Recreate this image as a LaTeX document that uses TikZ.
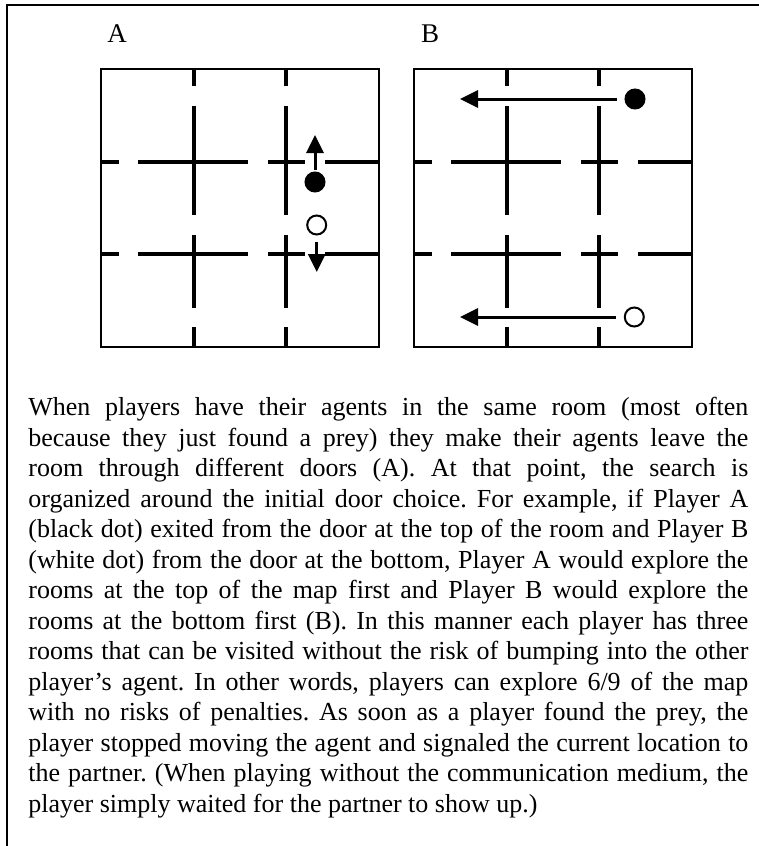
\documentclass[tikz,border=0pt]{standalone}
\usepackage{fontspec}
\setmainfont{Liberation Serif}
\usetikzlibrary{arrows.meta}
\newcommand{\justline}[1]{\makebox[360pt][s]{#1}}
\begin{document}
\begin{tikzpicture}[x=0.5pt, y=-0.5pt,
    wall/.style={line width=2pt},
    border/.style={line width=1.25pt},
    move/.style={line width=1.5pt, -{Triangle[length=9pt,width=8.5pt]}},
    agent/.style={circle, draw, line width=1pt, minimum size=9.5pt, inner sep=0pt},
    txt/.style={font=\fontsize{13}{15.25}\selectfont}]
    \useasboundingbox (0,0) rectangle (759,846);
    % frame
    \draw[line width=1pt] (7,846) -- (7,5) -- (759,5);
    % the two maps
    \foreach \gx/\name in {101/A, 414/B} {
      \begin{scope}[shift={(\gx,69)}]
        \node[txt, font=\fontsize{13.5}{15}\selectfont] (lbl\name) at (16,-35) {\name};
        \foreach \wx in {92.7,185.3}
          \foreach \a/\b in {0/17, 37/146, 166/239, 258/278}
            \draw[wall] (\wx,\a) -- (\wx,\b);
        \foreach \wy in {93,185}
          \foreach \a/\b in {0/18, 37/147, 167/204, 224/278}
            \draw[wall] (\a,\wy) -- (\b,\wy);
        \draw[border] (0,0) rectangle (278,278);
      \end{scope}
    }
    % map A: agents leave by different doors
    \node[agent, fill=black] (blackA) at (315,182) {};
    \node[agent, fill=white] (whiteA) at (316.7,225) {};
    \coordinate (upA) at (315,135);
    \coordinate (downA) at (316.7,272);
    \draw[move, shorten <=1pt] (blackA) -- (upA);
    \draw[move, shorten <=3pt] (whiteA) -- (downA);
    % map B: each explores its own row
    \node[agent, fill=black] (blackB) at (635,99) {};
    \node[agent, fill=white] (whiteB) at (634.3,317) {};
    \coordinate (topB) at (460,99);
    \coordinate (botB) at (460,317);
    \draw[move, shorten <=4pt] (blackB) -- (topB);
    \draw[move, shorten <=4pt] (whiteB) -- (botB);
    % caption
    \node[txt, anchor=north west, inner sep=0pt, text width=360pt, align=left] (caption) at (28,397) {%
      \spaceskip=0pt \xspaceskip=0pt \frenchspacing
      \justline{When players have their agents in the same room (most often}\\
      \justline{because they just found a prey) they make their agents leave the}\\
      \justline{room through different doors (A). At that point, the search is}\\
      \justline{organized around the initial door choice. For example, if Player A}\\
      \justline{(black dot) exited from the door at the top of the room and Player B}\\
      \justline{(white dot) from the door at the bottom, Player A would explore the}\\
      \justline{rooms at the top of the map first and Player B would explore the}\\
      \justline{rooms at the bottom first (B). In this manner each player has three}\\
      \justline{rooms that can be visited without the risk of bumping into the other}\\
      \justline{player's agent. In other words, players can explore 6/9 of the map}\\
      \justline{with no risks of penalties. As soon as a player found the prey, the}\\
      \justline{player stopped moving the agent and signaled the current location to}\\
      \justline{the partner. (When playing without the communication medium, the}\\
      player simply waited for the partner to show up.)};
\end{tikzpicture}
\end{document}
